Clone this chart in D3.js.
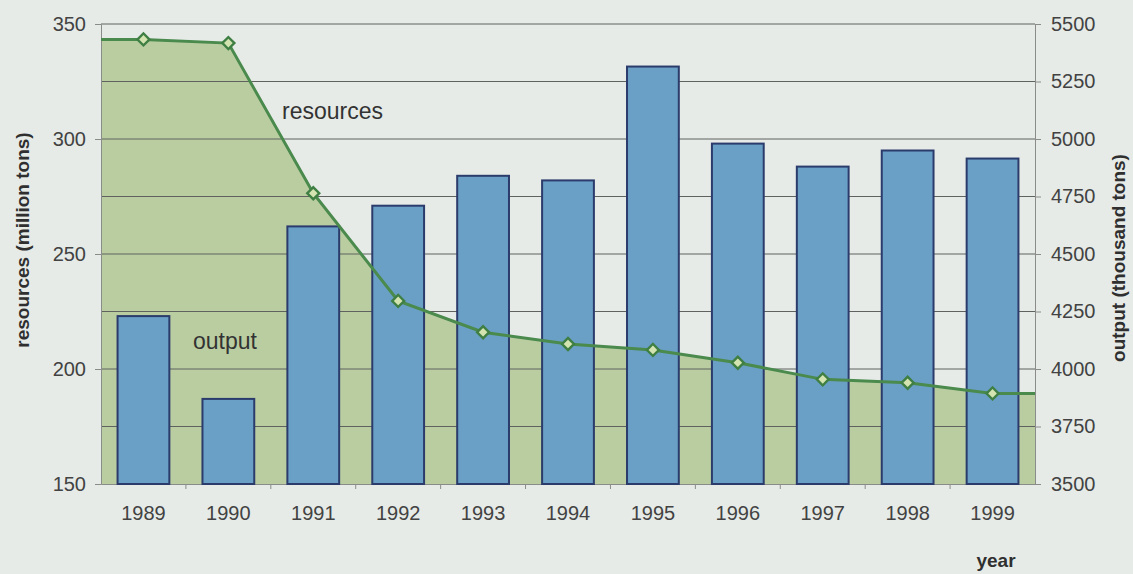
<!DOCTYPE html>
<html>
<head>
<meta charset="utf-8">
<script src="https://cdn.jsdelivr.net/npm/d3@7"></script>
<style>
  html, body { margin: 0; padding: 0; background: #e6ebe8; }
  svg { display: block; font-family: "Liberation Sans", Arial, sans-serif; }
  .tick text { fill: #424242; font-size: 20px; }
  .title { fill: #2f2f2f; font-size: 19px; font-weight: bold; }
  .note { fill: #333; font-size: 23px; }
</style>
</head>
<body>
<div id="chart"></div>
<script>
// resources vs output, 1989-1999 — bars on right axis, area+line on left axis

// === data ===
const years     = ["1989","1990","1991","1992","1993","1994","1995","1996","1997","1998","1999"];
const output    = [4230, 3870, 4620, 4710, 4840, 4820, 5315, 4980, 4880, 4950, 4915]; // thousand tons
const resources = [343.3, 341.7, 276.4, 229.6, 216.0, 210.9, 208.3, 202.7, 195.5, 194.0, 189.4]; // million tons
const leftTicks  = [150, 200, 250, 300, 350];
const rightTicks = [3500, 3750, 4000, 4250, 4500, 4750, 5000, 5250, 5500];
const gridValues = [175, 200, 225, 250, 275, 300, 325, 350];

// === sizing ===
const margin = { top: 24, right: 98, bottom: 90, left: 101 };
const outerW = 1133, outerH = 574;
const width  = outerW - margin.left - margin.right;
const height = outerH - margin.top - margin.bottom;

const svg = d3.select("#chart").append("svg")
  .attr("width", outerW)
  .attr("height", outerH);

svg.append("rect").attr("width", outerW).attr("height", outerH).attr("fill", "#e6ebe8");

const g = svg.append("g").attr("transform", `translate(${margin.left},${margin.top})`);

// scales
const x = d3.scaleBand().domain(years).range([0, width]).paddingInner(0.39).paddingOuter(0.195);
const yL = d3.scaleLinear().domain([150, 350]).range([height, 0]);
const yR = d3.scaleLinear().domain([3500, 5500]).range([height, 0]);
const cx = d => x(d) + x.bandwidth() / 2;

// resources area, held flat out to the plot edges
const pts = [{ px: 0, v: resources[0] }]
  .concat(years.map((yr, i) => ({ px: cx(yr), v: resources[i] })))
  .concat([{ px: width, v: resources[resources.length - 1] }]);

g.append("path")
  .datum(pts)
  .attr("fill", "#bacda1")
  .attr("d", d3.area().x(d => d.px).y0(height).y1(d => yL(d.v)));

// gridlines
g.append("g").selectAll("line")
  .data(gridValues)
  .join("line")
  .attr("x1", 0).attr("x2", width)
  .attr("y1", d => yL(d)).attr("y2", d => yL(d))
  .attr("stroke", "#5f625f").attr("stroke-width", 1);

// axes
const leftAxis = g.append("g")
  .call(d3.axisLeft(yL).tickValues(leftTicks).tickSize(6).tickPadding(9));
const rightAxis = g.append("g").attr("transform", `translate(${width},0)`)
  .call(d3.axisRight(yR).tickValues(rightTicks).tickFormat(d3.format("d")).tickSize(6).tickPadding(10));
const bottomAxis = g.append("g").attr("transform", `translate(0,${height})`)
  .call(d3.axisBottom(x).tickSize(0).tickPadding(22));

[leftAxis, rightAxis, bottomAxis].forEach(a => {
  a.attr("font-family", null).attr("font-size", null);
  a.selectAll(".domain").attr("stroke", "#8a8c8a");
  a.selectAll(".tick line").attr("stroke", "#8a8c8a");
});

// category separator ticks along the bottom
g.append("g").selectAll("line")
  .data(years.slice(1))
  .join("line")
  .attr("x1", d => x(d) - x.step() * x.paddingInner() / 2)
  .attr("x2", d => x(d) - x.step() * x.paddingInner() / 2)
  .attr("y1", height).attr("y2", height + 5)
  .attr("stroke", "#8a8c8a");

// output bars
g.append("g").selectAll("rect")
  .data(years)
  .join("rect")
  .attr("x", d => x(d))
  .attr("y", (d, i) => yR(output[i]))
  .attr("width", x.bandwidth())
  .attr("height", (d, i) => height - yR(output[i]))
  .attr("fill", "#6aa0c5")
  .attr("stroke", "#2b3b6b")
  .attr("stroke-width", 2);

// resources line on top
g.append("path")
  .datum(pts)
  .attr("fill", "none")
  .attr("stroke", "#4a8a4c")
  .attr("stroke-width", 3)
  .attr("d", d3.line().x(d => d.px).y(d => yL(d.v)));

// diamond markers (rotated squares)
g.append("g").selectAll("path")
  .data(years)
  .join("path")
  .attr("transform", (d, i) => `translate(${cx(d)},${yL(resources[i])}) rotate(45)`)
  .attr("d", d3.symbol(d3.symbolSquare, 72))
  .attr("fill", "#d4e4b0")
  .attr("stroke", "#3f7f44")
  .attr("stroke-width", 2.4);

// labels
g.append("text").attr("class", "note").attr("x", 181).attr("y", 95).text("resources");
g.append("text").attr("class", "note").attr("x", 92).attr("y", 325).text("output");

svg.append("text").attr("class", "title")
  .attr("transform", `translate(29,240) rotate(-90)`)
  .attr("text-anchor", "middle")
  .text("resources (million tons)");

svg.append("text").attr("class", "title")
  .attr("transform", `translate(1125,258) rotate(-90)`)
  .attr("text-anchor", "middle")
  .text("output (thousand tons)");

svg.append("text").attr("class", "title")
  .attr("x", 996).attr("y", 567)
  .attr("text-anchor", "middle")
  .text("year");
</script>
</body>
</html>
